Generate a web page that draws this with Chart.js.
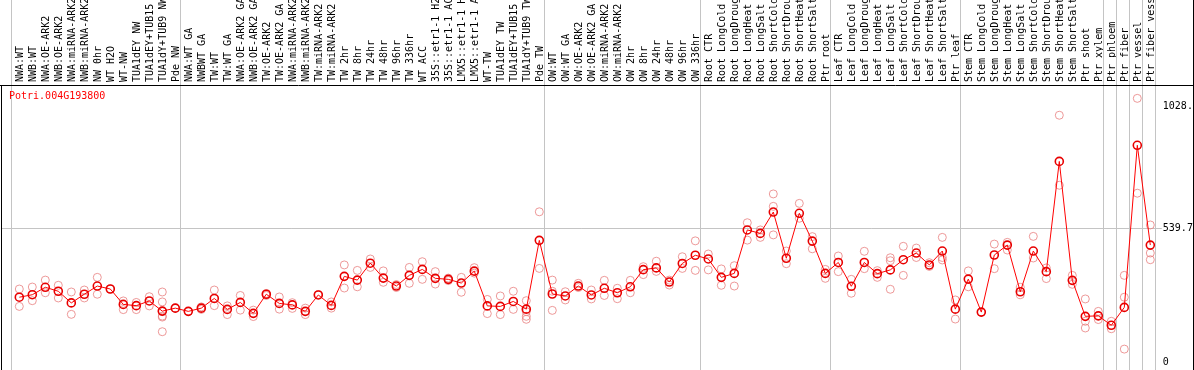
<!DOCTYPE html>
<html>
<head>
<meta charset="utf-8">
<script src="https://cdn.jsdelivr.net/npm/chart.js@4.4.1/dist/chart.umd.min.js"></script>
<style>
html, body { margin: 0; padding: 0; background: #fff; }
</style>
</head>
<body>
<canvas id="myChart" width="1194" height="370"></canvas>
<script>
const geneId = 'Potri.004G193800';

const labels = [
  'NWA:WT', 'NWB:WT', 'NWA:OE-ARK2', 'NWB:OE-ARK2', 'NWA:miRNA-ARK2', 'NWB:miRNA-ARK2',
  'NW 0hr', 'WT H2O', 'WT-NW', 'TUA1dEY NW', 'TUA1dEY+TUB15 NW', 'TUA1dY+TUB9 NW', 'Pde NW',
  'NWA:WT GA', 'NWBWT GA', 'TW:WT', 'TW:WT GA', 'NWA:OE-ARK2 GA', 'NWB:OE-ARK2 GA',
  'TW:OE-ARK2', 'TW:OE-ARK2 GA', 'NWA:miRNA-ARK2', 'NWB:miRNA-ARK2', 'TW:miRNA-ARK2', 'TW:miRNA-ARK2',
  'TW 2hr', 'TW 8hr', 'TW 24hr', 'TW 48hr', 'TW 96hr', 'TW 336hr', 'WT ACC',
  '35S::etr1-1 H2O', '35S::etr1-1 ACC', 'LMX5::etr1-1 H2O', 'LMX5::etr1-1 ACC',
  'WT-TW', 'TUA1dEY TW', 'TUA1dEY+TUB15 TW', 'TUA1dY+TUB9 TW', 'Pde TW',
  'OW:WT', 'OW:WT GA', 'OW:OE-ARK2', 'OW:OE-ARK2 GA', 'OW:miRNA-ARK2', 'OW:miRNA-ARK2',
  'OW 2hr', 'OW 8hr', 'OW 24hr', 'OW 48hr', 'OW 96hr', 'OW 336hr',
  'Root CTR', 'Root LongCold', 'Root LongDrought', 'Root LongHeat', 'Root LongSalt',
  'Root ShortCold', 'Root ShortDrought', 'Root ShortHeat', 'Root ShortSalt', 'Ptr root',
  'Leaf CTR', 'Leaf LongCold', 'Leaf LongDrought', 'Leaf LongHeat', 'Leaf LongSalt',
  'Leaf ShortCold', 'Leaf ShortDrought', 'Leaf ShortHeat', 'Leaf ShortSalt', 'Ptr leaf',
  'Stem CTR', 'Stem LongCold', 'Stem LongDrought', 'Stem LongHeat', 'Stem LongSalt',
  'Stem ShortCold', 'Stem ShortDrought', 'Stem ShortHeat', 'Stem ShortSalt',
  'Ptr shoot', 'Ptr xylem', 'Ptr phloem', 'Ptr fiber', 'Ptr vessel', 'Ptr fiber vessel'
];

// mean expression per sample
const means = [
  261, 271, 301, 285, 238, 273, 306, 294, 232, 227, 246, 205, 217,
  204, 217, 256, 212, 240, 196, 273, 236, 230, 204, 270, 228,
  345, 330, 398, 338, 306, 349, 373, 337, 333, 318, 366, 226, 224, 244, 213, 490,
  274, 266, 306, 270, 297, 279, 303, 372, 379, 322, 397,
  430, 415, 341, 357, 532, 518, 604, 418, 599, 487,
  357, 401, 305, 401, 356, 371, 412, 439, 391, 447,
  213, 334, 201, 431, 471, 283, 447, 364, 808, 329,
  184, 186, 148, 220, 873, 471
];

// individual replicates per sample
const reps = [
  [294, 224], [302, 247], [330, 279], [309, 258], [282, 192], [290, 258], [341, 273], [294],
  [246, 211], [240, 211], [263, 226], [282, 242, 203, 185, 181, 122], [217],
  [204], [222, 212], [290, 227], [226, 191], [268, 209], [209, 183], [276, 268], [262, 213],
  [239, 216], [217, 191], [272], [242, 217],
  [391, 298], [369, 303], [415, 381], [367, 321], [312, 300], [381, 317], [404, 333],
  [364, 314], [338, 328], [341, 281], [380, 358], [252, 195], [266, 191], [285, 212],
  [247, 203, 184, 172], [605, 377],
  [330, 285, 208], [283, 250], [317, 300], [290, 254], [329, 268], [297, 255],
  [329, 279], [384, 352], [406, 365], [310, 330], [424, 377], [488, 369],
  [435, 371], [375, 309], [388, 306], [561, 491], [532, 502], [677, 627, 512],
  [447, 396], [639, 579], [505, 456], [373, 337],
  [427, 364], [333, 277], [446, 376], [368, 341], [420, 408, 293], [466, 349],
  [459, 421], [400, 385], [502, 421, 411], [250, 173],
  [367, 303], [201], [475, 376], [482, 451], [301, 271], [506, 419], [379, 336],
  [994, 712], [349, 313], [254, 164, 137],
  [204, 171], [164, 134], [349, 261, 52], [1062, 680], [552, 439, 412]
];

const yTicks = [0, 539.7, 1028.2];
// first sample of each group, separators drawn before these
const groupStarts = [0, 13, 41, 53, 63, 73, 84, 85, 86, 87, 88];

const font = { family: 'DejaVu Sans Mono', size: 10 };

const repPoints = [];
reps.forEach((list, i) => list.forEach(v => repPoints.push({ x: i, y: v })));

function noPadding(s) {
  s.paddingTop = 0;
  s.paddingBottom = 0;
  s.paddingLeft = 0;
  s.paddingRight = 0;
}

const frame = {
  id: 'frame',
  beforeDatasetsDraw(chart) {
    const { ctx, chartArea: a, scales: { x, y } } = chart;
    ctx.save();
    ctx.lineWidth = 1;
    ctx.strokeStyle = '#c4c4c4';
    const gy = Math.floor(y.getPixelForValue(yTicks[1])) + 0.5;
    ctx.beginPath();
    ctx.moveTo(2, gy);
    ctx.lineTo(a.right + 5, gy);
    groupStarts.forEach(k => {
      const gx = Math.floor(x.getPixelForValue(k - 0.62)) + 0.5;
      ctx.moveTo(gx, 0);
      ctx.lineTo(gx, chart.height);
    });
    ctx.stroke();
    ctx.strokeStyle = '#000';
    ctx.beginPath();
    ctx.moveTo(0, a.top + 0.5);
    ctx.lineTo(chart.width, a.top + 0.5);
    ctx.moveTo(1.5, a.top);
    ctx.lineTo(1.5, chart.height);
    ctx.moveTo(chart.width - 0.5, 0);
    ctx.lineTo(chart.width - 0.5, chart.height);
    ctx.stroke();
    ctx.fillStyle = '#ff0000';
    ctx.font = '10px "DejaVu Sans Mono"';
    ctx.textBaseline = 'alphabetic';
    ctx.fillText(geneId, 9, a.top + 14);
    ctx.restore();
  }
};

const ctx = document.getElementById('myChart').getContext('2d');
const myChart = new Chart(ctx, {
  type: 'line',
  data: {
    datasets: [{
      label: 'mean',
      data: means.map((v, i) => ({ x: i, y: v })),
      borderColor: '#ff0000',
      borderWidth: 1,
      tension: 0,
      pointRadius: 4,
      pointBorderWidth: 1.6,
      pointBorderColor: '#e80000',
      pointBackgroundColor: 'rgba(0,0,0,0)'
    }, {
      label: 'replicates',
      data: repPoints,
      showLine: false,
      pointRadius: 4,
      pointBorderWidth: 1,
      pointBorderColor: 'rgba(232,128,128,0.8)',
      pointBackgroundColor: 'rgba(0,0,0,0)'
    }]
  },
  options: {
    responsive: false,
    animation: false,
    devicePixelRatio: 1,
    layout: { autoPadding: false, padding: { left: 12.8, top: 0, right: 0, bottom: 0 } },
    plugins: { legend: { display: false }, tooltip: { enabled: false } },
    scales: {
      x: {
        type: 'linear',
        position: 'top',
        min: -0.5,
        max: 87.5,
        afterBuildTicks: s => { s.ticks = labels.map((_, i) => ({ value: i })); },
        afterFit: s => { s.height = 85; noPadding(s); },
        grid: { display: false, drawTicks: false },
        border: { display: false },
        ticks: {
          autoSkip: false, minRotation: 90, maxRotation: 90, padding: 3, labelOffset: 13,
          font: font, color: '#000',
          callback: v => labels[v]
        }
      },
      y: {
        position: 'right',
        min: -32.2,
        max: 1115.8,
        afterBuildTicks: s => { s.ticks = yTicks.map(v => ({ value: v })); },
        afterFit: s => { s.width = 37.2; noPadding(s); },
        grid: { display: false, drawTicks: false },
        border: { display: false },
        ticks: { padding: 6, font: font, color: '#000', callback: v => String(v) }
      }
    }
  },
  plugins: [frame]
});
</script>
</body>
</html>
